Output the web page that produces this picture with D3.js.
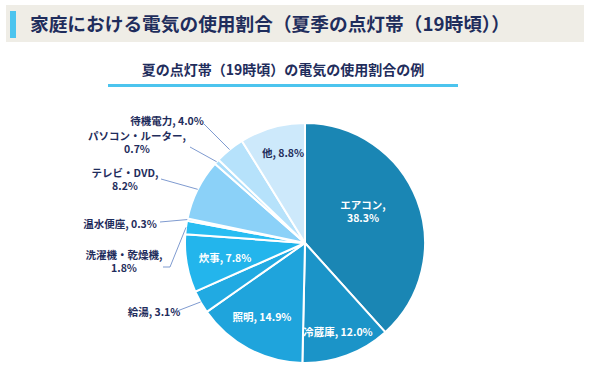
<!DOCTYPE html>
<html><head><meta charset="utf-8">
<script src="https://cdn.jsdelivr.net/npm/d3@7/dist/d3.min.js"></script>
<style>
html,body{margin:0;padding:0;background:#fff;}
svg{display:block;font-family:"Noto Sans CJK JP","Noto Sans",sans-serif;}
</style></head>
<body><svg id="c" width="590" height="378"></svg>
<script>
const title = "家庭における電気の使用割合（夏季の点灯帯（19時頃））";
const subtitle = "夏の点灯帯（19時頃）の電気の使用割合の例";
const categories = ["エアコン","冷蔵庫","照明","給湯","炊事","洗濯機・乾燥機","温水便座","テレビ・DVD","パソコン・ルーター","待機電力","他"];
const values = [38.3,12.0,14.9,3.1,7.8,1.8,0.3,8.2,0.7,4.0,8.8];
const colors = ["#1a86b4","#1b94c8","#1fa4dc","#21aae2","#23b5ec","#28bdf2","#45c6f4","#8bd1f8","#a9ddfa","#b6e2fb","#cde9fb"];

// label layout (annotation placement): lines, anchor x/y, inside flag
const labelLayout = [
  {lines:["エアコン,","38.3%"], x:363, y:212, inside:true, color:"#fff"},
  {lines:["冷蔵庫, 12.0%"], x:338, y:332, inside:true, color:"#fff"},
  {lines:["照明, 14.9%"], x:262, y:317, inside:true, color:"#fff"},
  {lines:["給湯, 3.1%"], x:154, y:312, inside:false, lx:172, ly:313},
  {lines:["炊事, 7.8%"], x:225, y:258, inside:true, color:"#fff"},
  {lines:["洗濯機・乾燥機,","1.8%"], x:124, y:262, inside:false, lx:163, ly:267, elbow:170},
  {lines:["温水便座, 0.3%"], x:120, y:224, inside:false, lx:160, ly:222},
  {lines:["テレビ・DVD,","8.2%"], x:125, y:180, inside:false, lx:161, ly:179},
  {lines:["パソコン・ルーター,","0.7%"], x:137, y:143, inside:false, lx:190, ly:147},
  {lines:["待機電力, 4.0%"], x:167, y:121, inside:false, lx:204, ly:124},
  {lines:["他, 8.8%"], x:283, y:153, inside:true, color:"#1f2d5c"}
];

const svg = d3.select("#c");
const navy = "#1f2d5c";

// header
svg.append("rect").attr("x",6).attr("y",5).attr("width",578).attr("height",37).attr("fill","#efede6");
svg.append("rect").attr("x",10).attr("y",11).attr("width",6).attr("height",27).attr("fill","#4cc4ee");
svg.append("text").attr("x",30).attr("y",31).attr("fill",navy)
  .attr("font-size",18.7).attr("font-weight",700).text(title);

// subtitle
svg.append("text").attr("x",283).attr("y",75).attr("text-anchor","middle").attr("fill",navy)
  .attr("font-size",14).attr("font-weight",700).text(subtitle);
svg.append("rect").attr("x",108).attr("y",84).attr("width",350).attr("height",3).attr("fill","#4cc4ee");

// pie
const cx = 305, cy = 243, r = 120;
const data = categories.map((c,i)=>({cat:c, value:values[i], color:colors[i], lab:labelLayout[i]}));
const pie = d3.pie().value(d=>d.value).sort(null);
const arcs = pie(data);
const arc = d3.arc().innerRadius(0).outerRadius(r);
const g = svg.append("g").attr("transform",`translate(${cx},${cy})`);
g.selectAll("path").data(arcs).join("path")
  .attr("d",arc).attr("fill",d=>d.data.color)
  .attr("stroke","#fff").attr("stroke-width",2).attr("stroke-linejoin","round");

// leader lines
arcs.forEach(a=>{
  const L = a.data.lab;
  if (L.inside) return;
  const mid = (a.startAngle+a.endAngle)/2;
  const px = cx + r*Math.sin(mid), py = cy - r*Math.cos(mid);
  const pts = [[L.lx,L.ly]];
  if (L.elbow) pts.push([L.elbow, L.ly]);
  pts.push([px,py]);
  svg.append("path").attr("d",d3.line()(pts)).attr("fill","none")
    .attr("stroke","#7f9bd0").attr("stroke-width",1);
});

// labels
arcs.forEach(a=>{
  const L = a.data.lab;
  const t = svg.append("text").attr("text-anchor","middle")
    .attr("fill", L.inside ? L.color : navy)
    .attr("font-size",10.5).attr("font-weight",700);
  const n = L.lines.length;
  L.lines.forEach((s,i)=>{
    t.append("tspan").attr("x",L.x).attr("y",L.y + (i-(n-1)/2)*13.5 + 3.5).text(s);
  });
});
</script></body></html>
